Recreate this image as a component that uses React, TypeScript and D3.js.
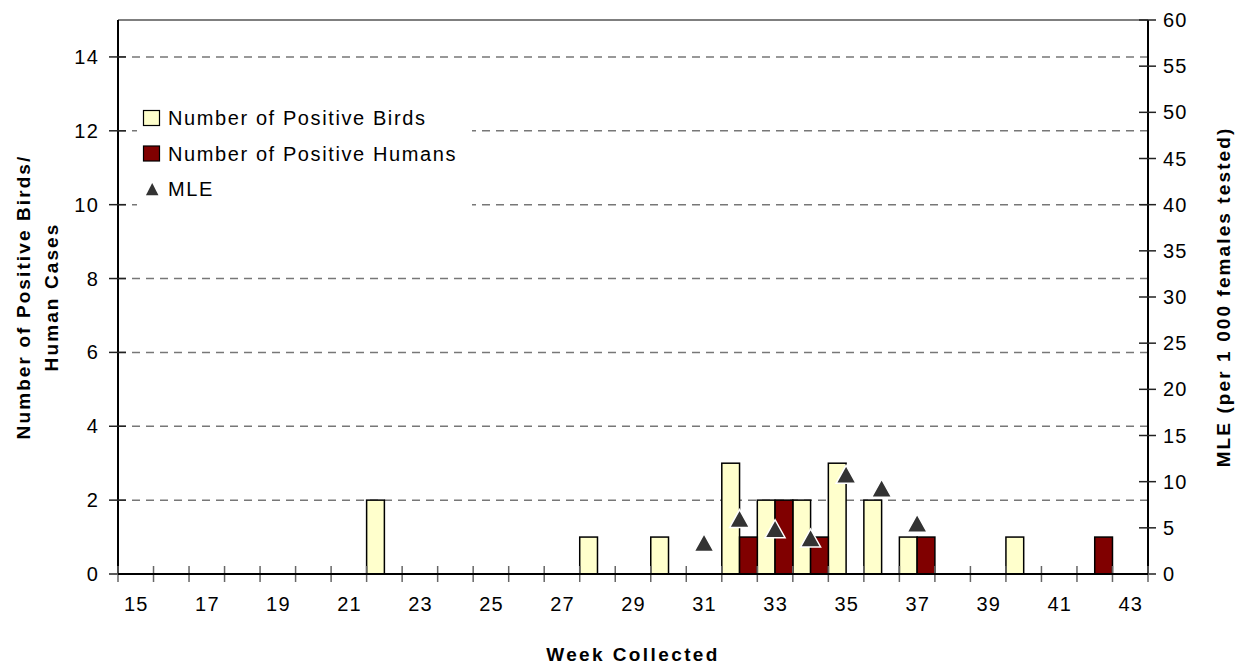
import React from "react";
import * as d3 from "d3";

// Week categories along the x axis
const weeks = [15, 16, 17, 18, 19, 20, 21, 22, 23, 24, 25, 26, 27, 28, 29, 30, 31, 32, 33, 34, 35, 36, 37, 38, 39, 40, 41, 42, 43];
const weekLabels = [15, 17, 19, 21, 23, 25, 27, 29, 31, 33, 35, 37, 39, 41, 43];

// Positive birds per week
const birdWeeks = [22, 28, 30, 32, 33, 34, 35, 36, 37, 40];
const birdCounts = [2, 1, 1, 3, 2, 2, 3, 2, 1, 1];

// Positive human cases per week
const humanWeeks = [32, 33, 34, 37, 42];
const humanCounts = [1, 2, 1, 1, 1];

// Mosquito MLE (per 1 000 females tested)
const mleWeeks = [31, 32, 33, 34, 35, 36, 37];
const mleValues = [3.4, 6.0, 4.9, 3.9, 10.8, 9.3, 5.5];

const leftTicks = [0, 2, 4, 6, 8, 10, 12, 14];
const rightTicks = [0, 5, 10, 15, 20, 25, 30, 35, 40, 45, 50, 55, 60];

const W = 1243;
const H = 664;
const plot = { left: 118, right: 1148, top: 20, bottom: 574 };
const FONT = "Arial, 'Liberation Sans', sans-serif";
const BIRD_FILL = "#FFFFCC";
const HUMAN_FILL = "#800000";
const MARKER_FILL = "#333333";

function triangle(cx: number, cy: number, w: number, h: number) {
  return `M${cx},${cy - h / 2}L${cx + w / 2},${cy + h / 2}L${cx - w / 2},${cy + h / 2}Z`;
}

export default function App() {
  const x = d3.scaleBand<number>().domain(weeks).range([plot.left, plot.right]).padding(0);
  const yL = d3.scaleLinear().domain([0, 15]).range([plot.bottom, plot.top]);
  const yR = d3.scaleLinear().domain([0, 60]).range([plot.bottom, plot.top]);
  const bw = x.bandwidth();

  const boundaries = weeks.map((w) => x(w) as number).concat([plot.right]);

  return (
    <svg
      width={W}
      height={H}
      style={{ position: "absolute", left: 0, top: 0, background: "#fff" }}
      fontFamily={FONT}
    >
      <rect x={0} y={0} width={W} height={H} fill="#fff" />

      {/* dashed gridlines */}
      {leftTicks.filter((t) => t > 0).map((t) => (
        <line
          key={"g" + t}
          x1={plot.left}
          x2={plot.right}
          y1={yL(t)}
          y2={yL(t)}
          stroke="#777"
          strokeWidth={1.5}
          strokeDasharray="8,6"
        />
      ))}

      {/* top border of plot area */}
      <line x1={plot.left} x2={plot.right} y1={plot.top} y2={plot.top} stroke="#555" strokeWidth={1.5} />

      {/* birds bars: left half of each week */}
      {birdWeeks.map((w, i) => (
        <rect
          key={"b" + w}
          x={x(w) as number}
          y={yL(birdCounts[i])}
          width={bw / 2}
          height={yL(0) - yL(birdCounts[i])}
          fill={BIRD_FILL}
          stroke="#000"
          strokeWidth={1.5}
        />
      ))}

      {/* human bars: right half of each week */}
      {humanWeeks.map((w, i) => (
        <rect
          key={"h" + w}
          x={(x(w) as number) + bw / 2}
          y={yL(humanCounts[i])}
          width={bw / 2}
          height={yL(0) - yL(humanCounts[i])}
          fill={HUMAN_FILL}
          stroke="#000"
          strokeWidth={1.5}
        />
      ))}

      {/* legend */}
      <rect x={137} y={94} width={335} height={114} fill="#fff" />
      <rect x={143.5} y={110.5} width={16} height={15} fill={BIRD_FILL} stroke="#000" strokeWidth={1.2} />
      <text x={168} y={125} fontSize={20} letterSpacing={1.6} fill="#000">Number of Positive Birds</text>
      <rect x={143.5} y={146} width={16} height={15} fill={HUMAN_FILL} stroke="#000" strokeWidth={1.2} />
      <text x={168} y={160.5} fontSize={20} letterSpacing={1.6} fill="#000">Number of Positive Humans</text>
      <path d={triangle(152.2, 189.2, 12.5, 12.3)} fill={MARKER_FILL} />
      <text x={168} y={195.5} fontSize={20} letterSpacing={1.6} fill="#000">MLE</text>

      {/* left axis */}
      <line x1={plot.left} x2={plot.left} y1={plot.top} y2={plot.bottom} stroke="#000" strokeWidth={2} />
      {leftTicks.map((t) => (
        <g key={"lt" + t}>
          <line x1={plot.left - 9} x2={plot.left + 8} y1={yL(t)} y2={yL(t)} stroke="#222" strokeWidth={1.5} />
          <text x={99} y={yL(t)} dy="0.35em" textAnchor="end" fontSize={20} letterSpacing={1.2} fill="#000">
            {t}
          </text>
        </g>
      ))}

      {/* right axis */}
      <line x1={plot.right} x2={plot.right} y1={plot.top} y2={plot.bottom} stroke="#000" strokeWidth={2} />
      {rightTicks.map((t) => (
        <g key={"rt" + t}>
          <line x1={plot.right - 9} x2={plot.right + 8} y1={yR(t)} y2={yR(t)} stroke="#222" strokeWidth={1.5} />
          <text x={1163} y={yR(t)} dy="0.35em" textAnchor="start" fontSize={20} letterSpacing={1.2} fill="#000">
            {t}
          </text>
        </g>
      ))}

      {/* x axis */}
      {boundaries.map((bx, i) => (
        <line key={"xt" + i} x1={bx} x2={bx} y1={plot.bottom - 8} y2={plot.bottom + 8} stroke="#666" strokeWidth={1.5} />
      ))}
      <line x1={plot.left} x2={plot.right} y1={plot.bottom} y2={plot.bottom} stroke="#000" strokeWidth={2} />
      {weekLabels.map((w) => (
        <text
          key={"xl" + w}
          x={(x(w) as number) + bw / 2 + 0.6}
          y={611}
          textAnchor="middle"
          fontSize={20}
          letterSpacing={1.2}
          fill="#000"
        >
          {w}
        </text>
      ))}

      {/* MLE markers */}
      {mleWeeks.map((w, i) => (
        <path
          key={"m" + w}
          d={triangle((x(w) as number) + bw / 2, yR(mleValues[i]), 20, 18)}
          fill={MARKER_FILL}
          stroke="#fff"
          strokeWidth={1.5}
          strokeLinejoin="miter"
        />
      ))}

      {/* axis titles */}
      <text x={633} y={661} textAnchor="middle" fontSize={19} fontWeight="bold" letterSpacing={2.4} fill="#000">
        Week Collected
      </text>
      <text
        transform={`translate(30,${(plot.top + plot.bottom) / 2}) rotate(-90)`}
        textAnchor="middle"
        fontSize={19}
        fontWeight="bold"
        letterSpacing={2.1}
        fill="#000"
      >
        Number of Positive Birds/
      </text>
      <text
        transform={`translate(58,${(plot.top + plot.bottom) / 2}) rotate(-90)`}
        textAnchor="middle"
        fontSize={19}
        fontWeight="bold"
        letterSpacing={2.1}
        fill="#000"
      >
        Human Cases
      </text>
      <text
        transform={`translate(1230,${(plot.top + plot.bottom) / 2}) rotate(-90)`}
        textAnchor="middle"
        fontSize={19}
        fontWeight="bold"
        letterSpacing={2.1}
        fill="#000"
      >
        MLE (per 1 000 females tested)
      </text>
    </svg>
  );
}
